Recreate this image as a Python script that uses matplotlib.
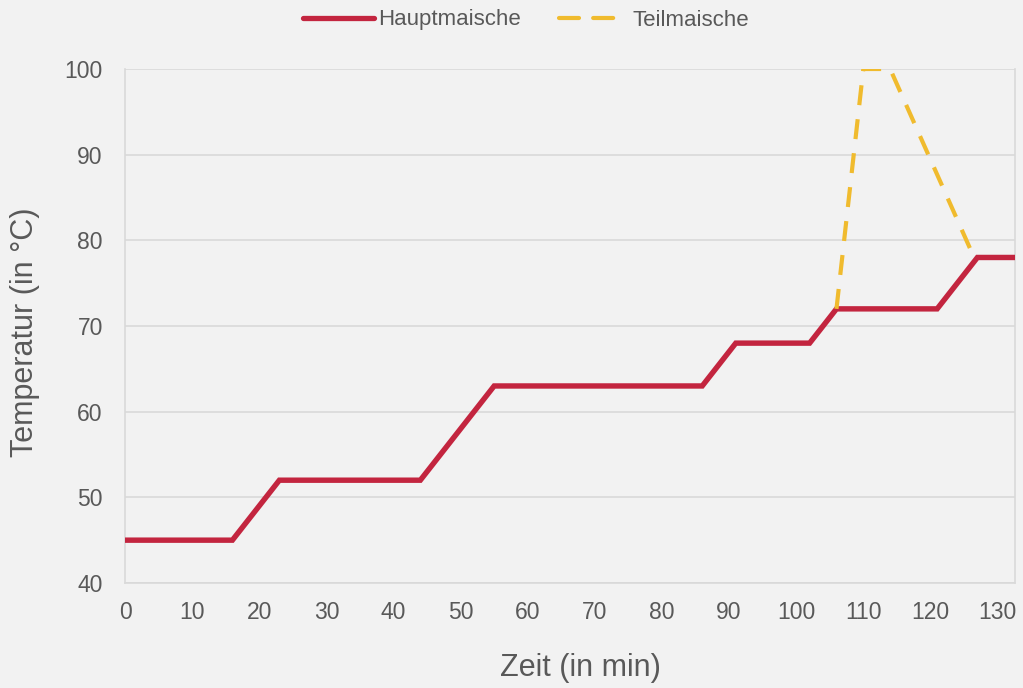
import matplotlib
matplotlib.use("Agg")
import matplotlib.pyplot as plt
from matplotlib.lines import Line2D

plt.rcParams['font.family'] = ['Liberation Sans', 'DejaVu Sans']

haupt_t = [0, 16, 23, 44, 55, 86, 91, 102, 106, 121, 127, 132.6]
haupt_T = [45, 45, 52, 52, 63, 63, 68, 68, 72, 72, 78, 78]
teil_t = [106, 110, 114, 126.5]
teil_T = [72, 100, 100, 78]
xticks = list(range(0, 131, 10))
yticks = list(range(40, 101, 10))

bg = '#f2f2f2'
txt = '#595959'
red = '#c3253f'
yel = '#f0bb2e'
fig = plt.figure(figsize=(10.23, 6.88), dpi=100, facecolor=bg)
ax = fig.add_axes([125/1023, 105/688, (1015-125)/1023, (583-69)/688])
ax.set_facecolor(bg)

ax.plot(haupt_t, haupt_T, color=red, lw=3.9, solid_capstyle='butt',
        solid_joinstyle='miter', zorder=3)
ax.plot(teil_t, teil_T, color=yel, lw=3.0, dashes=(4.8, 3.4), zorder=4)

ax.set_xlim(0, 132.6)
ax.set_ylim(40, 100)
ax.set_xticks(xticks)
ax.set_yticks(yticks)
ax.grid(axis='y', color='#d9d9d9', lw=1.2)
ax.set_axisbelow(True)
for s in ax.spines.values():
    s.set_color('#d9d9d9')
    s.set_linewidth(1.2)
ax.spines['top'].set_visible(False)
ax.tick_params(length=0, labelsize=16.5, labelcolor=txt)
ax.tick_params(axis='x', pad=13)
ax.tick_params(axis='y', pad=16)
ax.set_xlabel('Zeit (in min)', fontsize=22, color=txt, va='center')
ax.xaxis.set_label_coords((580 - 125) / 890, (583 - 668) / 514)
ax.set_ylabel('Temperatur (in °C)', fontsize=22, color=txt, va='center')
ax.yaxis.set_label_coords((25 - 125) / 890, (583 - 332) / 514)

h1 = Line2D([], [], color=red, lw=3.8, solid_capstyle='round')
h2 = Line2D([], [], color=yel, lw=3.0, dashes=(4.8, 3.4), dash_capstyle='round')
leg1 = fig.legend([h1], ['Hauptmaische'], loc='center', bbox_to_anchor=(412/1023, 1 - 20/688),
                  frameon=False, fontsize=16, labelcolor=txt, handlelength=3.2,
                  handletextpad=0.2, borderpad=0, borderaxespad=0)
leg2 = fig.legend([h2], ['Teilmaische'], loc='center', bbox_to_anchor=(654/1023, 1 - 20/688),
                  frameon=False, fontsize=16, labelcolor=txt, handlelength=2.5,
                  handletextpad=0.8, borderpad=0, borderaxespad=0)

fig.savefig('out.png', dpi=100, facecolor=bg)
